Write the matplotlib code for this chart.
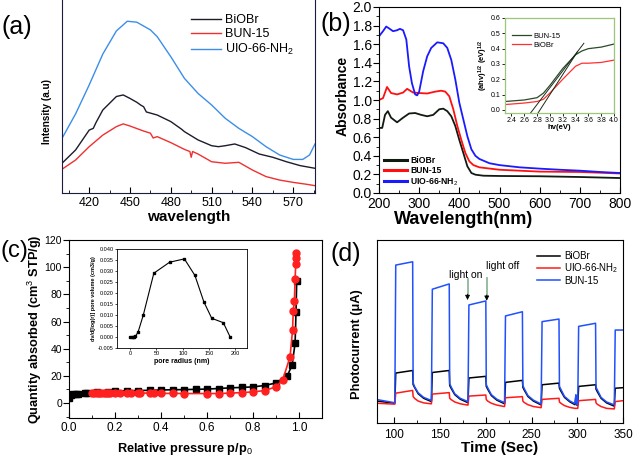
import matplotlib
matplotlib.use('Agg')
import matplotlib.pyplot as plt
from matplotlib.ticker import MultipleLocator, FormatStrFormatter

plt.rcParams['font.family'] = ['Liberation Sans', 'DejaVu Sans']
plt.rcParams['mathtext.fontset'] = 'custom'
plt.rcParams['mathtext.rm'] = 'Liberation Sans'
plt.rcParams['mathtext.bf'] = 'Liberation Sans:bold'
plt.rcParams['mathtext.it'] = 'Liberation Sans:italic'

# ---------------- (a) PL spectra ----------------
a_wl_uio = [400, 410, 420, 430, 440, 448, 455, 465, 470, 480, 490, 500, 510, 520, 530, 540, 550, 560, 570, 577, 582, 586]
a_uio = [28.3, 41, 56, 72, 84, 89, 88.5, 84.5, 81, 70.6, 59.4, 51.6, 45.6, 38.7, 33.5, 29.2, 24, 19.7, 17.4, 17.4, 19.7, 25.4]
a_wl_biobr = [400, 410, 420, 423, 425, 430, 440, 445, 450, 455, 458, 460, 462, 470, 480, 488, 490, 500, 510, 515, 520, 527, 535, 545, 555, 565, 575, 586]
a_biobr = [15.4, 22.3, 32.6, 33.5, 36.5, 43, 50, 50.8, 49, 47, 45.5, 44.7, 42, 40.4, 37, 33, 31.8, 27.5, 24.5, 24.0, 24.5, 25.4, 23.5, 20.2, 18.5, 16.2, 14.2, 12.8]
a_wl_bun = [400, 410, 420, 430, 440, 445, 450, 460, 465, 467, 470, 480, 490, 494, 495, 496, 500, 510, 520, 530, 540, 550, 560, 570, 580, 586]
a_bun = [12.3, 17.1, 24, 30, 34.4, 35.8, 34.7, 32.1, 31, 28.5, 29.2, 26.1, 22.6, 21.5, 18.5, 21.5, 20.2, 16.2, 15.4, 15.9, 11.9, 8.5, 6.7, 5.5, 4.5, 3.8]

# ---------------- (b) UV-vis ----------------
b_wl_uio = [200, 210, 218, 225, 235, 245, 252, 260, 268, 275, 282, 290, 295, 300, 310, 320, 330, 345, 360, 370, 380, 390, 400, 410, 420, 430, 440, 450, 475, 500, 550, 600, 650, 700, 750, 800]
b_uio = [1.685, 1.74, 1.79, 1.77, 1.74, 1.75, 1.765, 1.75, 1.65, 1.36, 1.18, 1.06, 1.05, 1.09, 1.31, 1.47, 1.56, 1.62, 1.61, 1.56, 1.43, 1.22, 0.97, 0.79, 0.61, 0.47, 0.40, 0.366, 0.32, 0.30, 0.276, 0.262, 0.25, 0.24, 0.226, 0.215]
b_wl_bun = [200, 210, 220, 230, 245, 260, 270, 285, 300, 320, 340, 355, 365, 375, 385, 395, 405, 415, 425, 435, 450, 500, 600, 700, 800]
b_bun = [1.0, 1.02, 1.14, 1.075, 1.06, 1.08, 1.12, 1.08, 1.075, 1.07, 1.09, 1.10, 1.09, 1.04, 0.90, 0.72, 0.57, 0.43, 0.34, 0.30, 0.276, 0.25, 0.23, 0.226, 0.21]
b_wl_biobr = [200, 208, 215, 222, 230, 245, 260, 275, 290, 305, 320, 335, 350, 360, 370, 380, 390, 400, 410, 420, 430, 440, 460, 500, 600, 700, 800]
b_biobr = [0.70, 0.70, 0.84, 0.88, 0.81, 0.76, 0.81, 0.855, 0.86, 0.84, 0.825, 0.84, 0.90, 0.907, 0.88, 0.825, 0.72, 0.57, 0.43, 0.287, 0.215, 0.197, 0.186, 0.183, 0.18, 0.172, 0.161]
# inset (Tauc plot)
bi_ev = [2.3, 2.6, 2.8, 2.9, 3.0, 3.2, 3.4, 3.5, 3.6, 3.8, 4.0]
bi_bun = [0.055, 0.065, 0.08, 0.11, 0.16, 0.27, 0.36, 0.385, 0.40, 0.41, 0.43]
bi_biobr = [0.035, 0.045, 0.055, 0.07, 0.11, 0.20, 0.285, 0.305, 0.305, 0.31, 0.325]
bi_tan1_x = [2.68, 3.53]
bi_tan1_y = [-0.03, 0.435]
bi_tan2_x = [2.80, 3.43]
bi_tan2_y = [-0.03, 0.38]

# ---------------- (c) N2 isotherm ----------------
c_p_black = [0.0, 0.008, 0.018, 0.03, 0.038, 0.07, 0.08, 0.12, 0.17, 0.2, 0.25, 0.3, 0.35, 0.4, 0.45, 0.5, 0.55, 0.6, 0.65, 0.7, 0.75, 0.8, 0.85, 0.9, 0.949, 0.970, 0.983, 0.987, 0.99]
c_q_black = [3.4, 5.8, 6.5, 7.0, 7.0, 7.5, 7.6, 8.0, 8.4, 8.8, 9.0, 9.2, 9.4, 9.6, 9.8, 9.9, 10.1, 10.3, 10.7, 11.2, 11.5, 11.9, 12.9, 14.8, 20, 28, 44, 67, 90]
c_p_red = [0.1, 0.11, 0.12, 0.13, 0.14, 0.15, 0.16, 0.17, 0.18, 0.2, 0.22, 0.25, 0.27, 0.3, 0.31, 0.35, 0.37, 0.4, 0.45, 0.5, 0.6, 0.65, 0.7, 0.75, 0.8, 0.85, 0.9, 0.929, 0.961, 0.972, 0.975, 0.98, 0.983, 0.986, 0.987, 0.988]
c_q_red = [7.6, 7.6, 7.6, 7.6, 7.6, 7.6, 7.6, 7.6, 7.6, 7.6, 7.6, 7.6, 7.5, 7.5, 7.4, 7.3, 7.2, 7.1, 7.1, 7.0, 7.0, 7.0, 7.3, 7.7, 8.2, 9.2, 11.9, 16.9, 34, 53.5, 68, 75, 91.5, 102.5, 106.7, 110.4]
# inset (pore size distribution)
ci_r = [0, 3, 5, 8, 10, 15, 25, 45, 75, 103, 123, 140, 155, 177, 190]
ci_v = [0.0, 0.0, 0.0, 0.0, 0.0003, 0.0022, 0.010, 0.029, 0.034, 0.0355, 0.028, 0.016, 0.0085, 0.0065, 0.0]

# ---------------- (d) photocurrent ----------------
d_t = [81, 100, 100.5, 101.5, 120, 120.5, 122, 126, 132, 140,
       140.5, 141.5, 160, 160.5, 162, 166, 172, 180,
       180.5, 181.5, 200, 200.5, 202, 206, 212, 220,
       220.5, 221.5, 240, 240.5, 242, 246, 252, 260,
       260.5, 261.5, 280, 280.5, 282, 286, 292, 297.5, 298.5, 299.5,
       300.5, 301.5, 320, 320.5, 322, 326, 332, 340,
       340.5, 341.5, 350]
d_bun = [12.8, 11.1, 11.1, 86.3, 88.1, 22.0, 20.0, 16.5, 14.0, 12.4,
         12.4, 73.1, 76.0, 21.5, 19.8, 16.0, 13.5, 11.8,
         11.8, 64.5, 66.7, 21.0, 19.3, 15.5, 13.0, 11.2,
         11.2, 58.5, 60.8, 20.5, 18.8, 15.0, 12.5, 10.5,
         10.5, 55.4, 56.8, 20.0, 18.5, 14.5, 12.0, 10.6, 15.5, 10.2,
         10.2, 52.8, 54.5, 19.5, 18.0, 14.0, 11.5, 10.0,
         10.0, 50.8, 50.8]
d_biobr = [12.0, 10.8, 10.8, 27.3, 28.7, 21.0, 19.5, 16.0, 13.5, 11.8,
           11.8, 27.6, 28.7, 20.5, 19.0, 15.5, 13.0, 11.2,
           11.2, 24.6, 25.5, 20.0, 18.5, 15.0, 12.5, 10.6,
           10.6, 22.2, 23.3, 19.5, 18.0, 14.5, 12.0, 10.0,
           10.0, 20.9, 21.8, 19.0, 17.5, 14.0, 11.5, 10.0, 15.0, 9.8,
           9.8, 20.0, 20.9, 18.5, 17.0, 13.5, 11.0, 9.3,
           9.3, 19.0, 19.3]
d_uio = [10.8, 10.3, 10.3, 16.3, 17.8, 14.5, 13.5, 12.0, 11.0, 10.5,
         10.5, 15.8, 16.6, 13.5, 12.8, 11.5, 10.5, 9.8,
         9.8, 14.7, 15.3, 12.8, 12.0, 10.8, 9.8, 9.0,
         9.0, 13.8, 14.4, 12.0, 11.2, 10.0, 9.0, 8.4,
         8.4, 12.9, 13.5, 11.5, 10.8, 9.5, 8.5, 8.0, 8.0, 8.0,
         8.0, 12.2, 12.9, 11.0, 10.2, 9.0, 8.0, 7.7,
         7.7, 11.7, 12.2]
d_arrow_t = [180, 201]
d_arrow_top = [78.5, 79.3]
d_arrow_tip = [67.2, 66.8]

fig = plt.figure(figsize=(6.34, 4.66), dpi=100)

# ===== (a) =====
axa = fig.add_axes([62/634, 1-193/466, 253/634, 193/466])
axa.plot(a_wl_biobr, a_biobr, color='#1c1c2c', lw=1.0, label='BiOBr')
axa.plot(a_wl_bun, a_bun, color='#f03030', lw=1.0, label='BUN-15')
axa.plot(a_wl_uio, a_uio, color='#3c8ee8', lw=1.0, label='UIO-66-NH$_2$')
axa.set_xlim(400, 586)
axa.set_ylim(0, 100)
axa.set_yticks([])
axa.set_xticks([420, 450, 480, 510, 540, 570])
axa.xaxis.set_minor_locator(MultipleLocator(15))
axa.tick_params(axis='x', which='both', direction='in', labelsize=9, pad=3)
axa.tick_params(axis='x', which='major', length=4)
axa.tick_params(axis='x', which='minor', length=2)
axa.spines['top'].set_visible(False)
for s in axa.spines.values():
    s.set_color('#1c1c3c')
axa.set_xlabel('wavelength', fontsize=11, fontweight='bold')
axa.xaxis.set_label_coords(0.5, -0.088)
axa.set_ylabel('Intensity (a.u)', fontsize=7.2, fontweight='bold')
axa.yaxis.set_label_coords(-0.04, 0.42)
axa.legend(loc='upper left', bbox_to_anchor=(0.465, 0.985), frameon=False, fontsize=9,
           handlelength=2.4, handletextpad=0.3, labelspacing=0.15)
fig.text(17/634, 1-27/466, '(a)', fontsize=18, ha='center', va='center')

# ===== (b) =====
axb = fig.add_axes([379/634, 1-193/466, 241/634, 186/466])
axb.plot(b_wl_biobr, b_biobr, color='#111a11', lw=1.3, label='BiOBr')
axb.plot(b_wl_bun, b_bun, color='#ff1010', lw=1.3, label='BUN-15')
axb.plot(b_wl_uio, b_uio, color='#1a1aff', lw=1.3, label='UIO-66-NH$_2$')
axb.set_xlim(200, 800)
axb.set_ylim(0, 2.0)
axb.xaxis.set_major_locator(MultipleLocator(100))
axb.xaxis.set_minor_locator(MultipleLocator(50))
axb.yaxis.set_major_locator(MultipleLocator(0.2))
axb.yaxis.set_minor_locator(MultipleLocator(0.1))
axb.tick_params(axis='x', which='both', direction='in', labelsize=10, pad=3)
axb.tick_params(axis='y', which='both', direction='out', labelsize=10, pad=1)
axb.tick_params(which='major', length=4)
axb.tick_params(which='minor', length=2)
axb.set_xlabel('Wavelength(nm)', fontsize=13, fontweight='bold')
axb.xaxis.set_label_coords(0.35, -0.097)
axb.set_ylabel('Absorbance', fontsize=10, fontweight='bold')
axb.yaxis.set_label_coords(-0.12, 0.524)
leg = axb.legend(loc='lower left', bbox_to_anchor=(0.0, 0.0), frameon=False,
                 prop={'size': 6.2, 'weight': 'bold'}, handlelength=2.6,
                 handletextpad=0.4, labelspacing=0.15, borderaxespad=0.2)
for l in leg.get_lines():
    l.set_linewidth(2.2)
fig.text(336/634, 1-24/466, '(b)', fontsize=18, ha='center', va='center')

# inset (b)
axbi = fig.add_axes([505/634, 1-113/466, 109/634, 95/466])
axbi.plot(bi_ev, bi_bun, color='#2a4a2a', lw=0.9, label='BUN-15')
axbi.plot(bi_ev, bi_biobr, color='#ff3030', lw=0.9, label='BiOBr')
axbi.plot(bi_tan1_x, bi_tan1_y, color='#1a2a1a', lw=0.7)
axbi.plot(bi_tan2_x, bi_tan2_y, color='#1a2a1a', lw=0.7)
axbi.set_xlim(2.3, 4.0)
axbi.set_ylim(-0.02, 0.6)
axbi.xaxis.set_major_locator(MultipleLocator(0.2))
axbi.yaxis.set_major_locator(MultipleLocator(0.1))
axbi.tick_params(labelsize=5, length=2, pad=1, width=0.6)
for s in axbi.spines.values():
    s.set_color('#9cc77a')
    s.set_linewidth(0.9)
axbi.set_xlabel('hv(eV)', fontsize=5.5, fontweight='bold', labelpad=0)
axbi.set_ylabel(r'(ahv)$^{\mathbf{1/2}}$ (eV)$^{\mathbf{1/2}}$', fontsize=5.5, fontweight='bold', labelpad=1)
axbi.legend(loc='upper left', bbox_to_anchor=(0.0, 0.92), frameon=False, fontsize=5.5,
            handlelength=2.5, handletextpad=0.3, labelspacing=0.2)

# ===== (c) =====
axc = fig.add_axes([69/634, 1-418/466, 253/634, 178/466])
axc.plot(c_p_black, c_q_black, color='black', lw=1.2, marker='s', ms=4, mfc='black', mec='black')
axc.plot(c_p_red, c_q_red, color='#ff2020', lw=1.2, marker='o', ms=5, mfc='#ff2020', mec='#ff2020')
axc.set_xlim(0.0, 1.1)
axc.set_ylim(-11, 120)
axc.xaxis.set_major_locator(MultipleLocator(0.2))
axc.xaxis.set_minor_locator(MultipleLocator(0.1))
axc.yaxis.set_major_locator(MultipleLocator(20))
axc.yaxis.set_minor_locator(MultipleLocator(10))
axc.tick_params(axis='x', which='both', direction='in', labelsize=8.5, pad=3)
axc.tick_params(axis='y', which='both', direction='out', labelsize=7.5, pad=1)
axc.tick_params(which='major', length=4)
axc.tick_params(which='minor', length=2)
axc.set_xlabel('Relative pressure p/p$_0$', fontsize=9.2, fontweight='bold')
axc.xaxis.set_label_coords(0.458, -0.129)
axc.set_ylabel('Quantity absorbed (cm$^3$ STP/g)', fontsize=9.2, fontweight='bold')
axc.yaxis.set_label_coords(-0.097, 0.5)
fig.text(14/634, 1-251/466, '(c)', fontsize=17, ha='center', va='center')

# inset (c)
axci = fig.add_axes([117/634, 1-348/466, 130/634, 99/466])
axci.plot(ci_r, ci_v, color='black', lw=0.8, marker='s', ms=2, mfc='black')
axci.set_xlim(-25, 222)
axci.set_ylim(-0.005, 0.040)
axci.xaxis.set_major_locator(MultipleLocator(50))
axci.yaxis.set_major_locator(MultipleLocator(0.005))
axci.yaxis.set_major_formatter(FormatStrFormatter('%.3f'))
axci.tick_params(labelsize=4, length=1.5, pad=1, width=0.5)
for s in axci.spines.values():
    s.set_linewidth(0.6)
axci.set_xlabel('pore radius (nm)', fontsize=5, fontweight='bold', labelpad=1)
axci.set_ylabel('dv/d[log(r)] pore volume (cm3/g)', fontsize=4, fontweight='bold', labelpad=1)

# ===== (d) =====
axd = fig.add_axes([377/634, 1-423/466, 246/634, 183/466])
axd.plot(d_t, d_biobr, color='black', lw=1.1, label='BiOBr')
axd.plot(d_t, d_uio, color='#ff1a1a', lw=1.1, label='UIO-66-NH$_2$')
axd.plot(d_t, d_bun, color='#2050ff', lw=1.1, label='BUN-15')
axd.set_xlim(81, 350)
axd.set_ylim(0, 100)
axd.set_yticks([])
axd.xaxis.set_major_locator(MultipleLocator(50))
axd.xaxis.set_minor_locator(MultipleLocator(25))
axd.tick_params(axis='x', which='both', direction='in', labelsize=8.5, pad=4)
axd.tick_params(which='major', length=4)
axd.tick_params(which='minor', length=2)
axd.set_xlabel('Time (Sec)', fontsize=11, fontweight='bold')
axd.xaxis.set_label_coords(0.5, -0.098)
axd.set_ylabel('Photocurrent (μA)', fontsize=9.3, fontweight='bold')
axd.yaxis.set_label_coords(-0.057, 0.432)
axd.legend(loc='upper left', bbox_to_anchor=(0.614, 0.985), frameon=False, fontsize=7,
           handlelength=2.4, handletextpad=0.4, labelspacing=0.02)
for t, top, tip in zip(d_arrow_t, d_arrow_top, d_arrow_tip):
    axd.plot([t, t], [top, tip + 3], color='#8fb89a', lw=1.3)
    axd.annotate('', xy=(t, tip), xytext=(t, tip + 3.2),
                 arrowprops=dict(arrowstyle='-|>', color='black', lw=0.6, mutation_scale=7,
                                 shrinkA=0, shrinkB=0))
axd.text(178, 80.9, 'light on', fontsize=7.5, ha='center', va='center')
axd.text(218, 86, 'light off', fontsize=7.5, ha='center', va='center')
fig.text(346/634, 1-254/466, '(d)', fontsize=18, ha='center', va='center')

fig.savefig('out.png', dpi=100)
